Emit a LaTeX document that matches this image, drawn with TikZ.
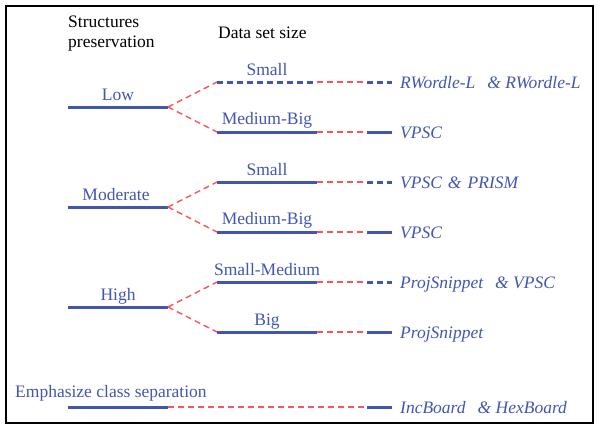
\documentclass[tikz,border=0pt]{standalone}
\usepackage{fontspec}
\setmainfont{Liberation Serif}
\definecolor{lblue}{RGB}{66,86,176}
\definecolor{lred}{RGB}{250,85,90}
\begin{document}
\begin{tikzpicture}[x=1pt,y=-1pt,
  bl/.style={draw=lblue,line width=3pt},
  bld/.style={draw=lblue,line width=3pt,dash pattern=on 6pt off 4pt},
  rd/.style={draw=lred,line width=1.4pt,dash pattern=on 6pt off 4pt},
  lab/.style={text=lblue,font=\fontsize{17.5}{20}\selectfont,inner sep=0pt,anchor=base},
  labw/.style={text=lblue,font=\fontsize{17.5}{20}\selectfont,inner sep=0pt,anchor=base west},
  meth/.style={text=lblue,font=\fontsize{17.5}{20}\selectfont\itshape,inner sep=0pt,anchor=base west},
  head/.style={text=black,font=\fontsize{17.5}{20}\selectfont,inner sep=0pt,anchor=base west}]
\useasboundingbox (0,0) rectangle (599,429);
\draw[line width=1.8pt] (6,6) rectangle (593,423);
% headers
\node[head] (h1) at (68,27) {Structures};
\node[head] (h1b) at (68,47) {preservation};
\node[head] (h2) at (218,38) {Data set size};
% level 1
\coordinate (lowA) at (68,107); \coordinate (lowB) at (168,107);
\coordinate (modA) at (68,207); \coordinate (modB) at (168,207);
\coordinate (higA) at (68,307); \coordinate (higB) at (168,307);
\coordinate (emA) at (68,407); \coordinate (emB) at (168,407);
\draw[bl] (lowA) -- (lowB);
\draw[bl] (modA) -- (modB);
\draw[bl] (higA) -- (higB);
\draw[bl] (emA) -- (emB);
\node[lab] (lowL) at (118,100) {Low};
\node[lab] (modL) at (116,200) {Moderate};
\node[lab] (higL) at (118,300) {High};
\node[labw] (emL) at (15,397) {Emphasize class separation};
% level 2 coordinates
\foreach \n/\y in {1/82,2/132,3/182,4/232,5/282,6/332,7/407}{
  \coordinate (a\n) at (217,\y);
  \coordinate (b\n) at (317,\y);
  \coordinate (c\n) at (367,\y);
  \coordinate (d\n) at (392,\y);
}
% branch connectors
\draw[rd] (lowB) -- (a1);
\draw[rd] (lowB) -- (a2);
\draw[rd] (modB) -- (a3);
\draw[rd] (modB) -- (a4);
\draw[rd] (higB) -- (a5);
\draw[rd] (higB) -- (a6);
% level 2 lines
\draw[bld] (a1) -- (b1);
\draw[bl] (a2) -- (b2);
\draw[bl] (a3) -- (b3);
\draw[bl] (a4) -- (b4);
\draw[bl] (a5) -- (b5);
\draw[bl] (a6) -- (b6);
\foreach \n in {1,...,6}{\draw[rd] (b\n) -- (c\n);}
\draw[rd] (emB) -- (c7);
% ends
\draw[bld] (c1) -- (d1);
\draw[bl] (c2) -- (d2);
\draw[bld] (c3) -- (d3);
\draw[bl] (c4) -- (d4);
\draw[bld] (c5) -- (d5);
\draw[bl] (c6) -- (d6);
\draw[bl] (c7) -- (d7);
% level 2 labels
\node[lab] (l1) at (267,75) {Small};
\node[lab] (l2) at (267,124) {Medium-Big};
\node[lab] (l3) at (267,175) {Small};
\node[lab] (l4) at (267,224) {Medium-Big};
\node[lab] (l5) at (267,275) {Small-Medium};
\node[lab] (l6) at (267,325) {Big};
% methods
\node[meth] (m1) at (400,88) {RWordle-L\hspace{12pt}\& RWordle-L};
\node[meth] (m2) at (400,138) {VPSC};
\node[meth] (m3) at (400,188) {VPSC\hspace{6pt}\&\hspace{6pt}PRISM};
\node[meth] (m4) at (400,238) {VPSC};
\node[meth] (m5) at (400,288) {ProjSnippet\hspace{12pt}\& VPSC};
\node[meth] (m6) at (400,338) {ProjSnippet};
\node[meth] (m7) at (400,413) {IncBoard\hspace{12pt}\& HexBoard};
\end{tikzpicture}
\end{document}
